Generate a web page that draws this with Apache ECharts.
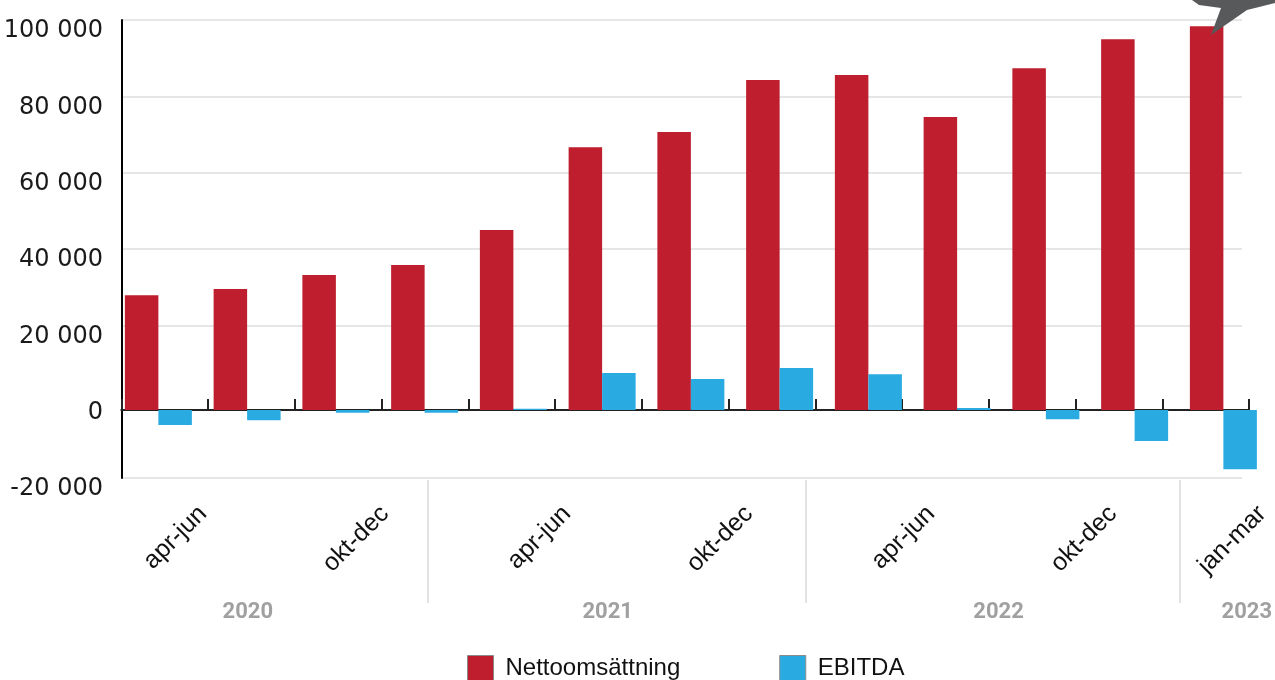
<!DOCTYPE html>
<html>
<head>
<meta charset="utf-8">
<script src="https://cdn.jsdelivr.net/npm/echarts@6/dist/echarts.min.js"></script>
<style>
  html, body { margin: 0; padding: 0; background: #ffffff; }
  #chart { width: 1275px; height: 680px; }
</style>
</head>
<body>
<div id="chart"></div>
<script>
// ---- data ----
const quarters = ['jan-mar', 'apr-jun', 'jul-sep', 'okt-dec',
                  'jan-mar', 'apr-jun', 'jul-sep', 'okt-dec',
                  'jan-mar', 'apr-jun', 'jul-sep', 'okt-dec',
                  'jan-mar'];
const quarterYears = ['2020', '2020', '2020', '2020',
                      '2021', '2021', '2021', '2021',
                      '2022', '2022', '2022', '2022',
                      '2023'];
const years = ['2020', '2021', '2022', '2023'];
const nettoomsattning = [30100, 31700, 35400, 38000, 47200, 68900, 72900,
                         86500, 87800, 76800, 89600, 97200, 100600];
const ebitda = [-3900, -2700, -700, -700, 300, 9700, 8100,
                11000, 9400, 500, -2400, -8100, -15500];
const yTicks = [-20000, 0, 20000, 40000, 60000, 80000, 100000];
const shownQuarterIdx = [1, 3, 5, 7, 9, 11, 12];
const seriesNames = ['Nettoomsättning', 'EBITDA'];

// ---- layout (axis-unit positions of the decorative label rows) ----
const quarterLabelPos = [1, 3, 5, 7, 9, 11, 12.64];
const yearLabelPos = [1.51, 5.57, 9.98, 12.78];
const yearSepPos = [3.54, 7.80, 12.02];
const LABEL_LEFT = 112, LABEL_STEP = 91;

function fmtNum(v) {
  const s = Math.abs(v).toString().replace(/\B(?=(\d{3})+(?!\d))/g, ' ');
  return (v < 0 ? '-' : '') + s;
}
function nearestIdx(arr, v) {
  let best = 0, d = Infinity;
  arr.forEach((p, i) => { const dd = Math.abs(p - v); if (dd < d) { d = dd; best = i; } });
  return best;
}

const RED = '#be1e2d';
const BLUE = '#29abe2';
const PX_PER_20K = 76.3;
const ZERO_Y = 410;
const barMin = -20000, barMax = 105000;
const barTop = ZERO_Y - barMax / 20000 * PX_PER_20K;
const barHeight = (barMax - barMin) / 20000 * PX_PER_20K;

const chart = echarts.init(document.getElementById('chart'), null, { renderer: 'canvas' });

const option = {
  animation: false,
  backgroundColor: '#ffffff',
  grid: [
    { left: 122, top: 20, width: 1120, height: 458 },                 // 0: gridlines + y labels
    { left: 114, top: barTop, width: 1153.75, height: barHeight },   // 1: bars
    { left: 121.3, top: barTop, width: 1127.7, height: barHeight },  // 2: zero line ticks
    { left: LABEL_LEFT, top: 0, right: 0, height: 478 },             // 3: quarter labels
    { left: 114, top: 0, width: 1153.75, height: 480 }               // 4: years
  ],
  xAxis: [
    { gridIndex: 0, type: 'category', data: quarters, show: false },
    { gridIndex: 1, type: 'category', data: quarters, show: false },
    { gridIndex: 2, type: 'category', data: quarters,
      axisLine: { show: true, onZero: true, lineStyle: { color: '#222', width: 2 } },
      axisTick: { show: true, inside: true, length: 11, lineStyle: { color: '#222', width: 2 } },
      axisLabel: { show: false }, splitLine: { show: false } },
    { gridIndex: 3, type: 'value', min: 0, max: (1275 - LABEL_LEFT) / LABEL_STEP, position: 'bottom',
      axisLine: { show: false }, axisTick: { show: false }, splitLine: { show: false },
      axisLabel: {
        customValues: quarterLabelPos, rotate: 45, margin: 32,
        fontFamily: 'Liberation Sans', fontSize: 25, color: '#111',
        formatter: v => quarters[shownQuarterIdx[nearestIdx(quarterLabelPos, v)]]
      } },
    { gridIndex: 4, type: 'value', min: 0, max: 13, position: 'bottom',
      axisLine: { show: false }, splitLine: { show: false },
      axisTick: { show: true, customValues: yearSepPos, length: 123, inside: false,
                  lineStyle: { color: '#e3e3e3', width: 2 } },
      axisLabel: {
        customValues: yearLabelPos, margin: 121,
        fontFamily: 'Roboto', fontWeight: 'bold', fontSize: 22, color: '#a0a0a0',
        formatter: v => years[nearestIdx(yearLabelPos, v)]
      } }
  ],
  yAxis: [
    { gridIndex: 0, type: 'value', min: yTicks[0], max: yTicks[yTicks.length - 1],
      interval: yTicks[1] - yTicks[0],
      axisLine: { show: true, lineStyle: { color: '#000', width: 2 } },
      axisTick: { show: false },
      axisLabel: { margin: 19, fontFamily: 'DejaVu Sans', fontSize: 24, color: '#1a1a1a',
                   verticalAlign: 'top', lineHeight: 22, formatter: v => fmtNum(v) },
      splitLine: { show: true, lineStyle: { width: 2,
        color: ['#e6e6e6', 'rgba(0,0,0,0)', '#e6e6e6', '#e6e6e6', '#e6e6e6', '#e6e6e6'] } } },
    { gridIndex: 1, type: 'value', min: barMin, max: barMax, show: false, splitLine: { show: false } },
    { gridIndex: 2, type: 'value', min: barMin, max: barMax, show: false, splitLine: { show: false } },
    { gridIndex: 3, type: 'value', min: 0, max: 1, show: false, splitLine: { show: false } },
    { gridIndex: 4, type: 'value', min: 0, max: 1, show: false, splitLine: { show: false } }
  ],
  legend: {
    left: 467, top: 655, padding: 0,
    itemWidth: 26, itemHeight: 26, itemGap: 99,
    icon: 'rect',
    itemStyle: { borderColor: '#8a8a8a', borderWidth: 1 },
    textStyle: { fontFamily: 'Liberation Sans', fontSize: 24, color: '#111', padding: [0, 0, 0, 7] },
    data: seriesNames
  },
  series: [
    { name: seriesNames[0], type: 'bar', xAxisIndex: 1, yAxisIndex: 1,
      data: nettoomsattning, barWidth: 33.5, barGap: '0%',
      itemStyle: { color: RED } },
    { name: seriesNames[1], type: 'bar', xAxisIndex: 1, yAxisIndex: 1,
      data: ebitda, barWidth: 33.5, barGap: '0%',
      itemStyle: { color: BLUE } }
  ],
  graphic: [
    { type: 'polygon', z: 100,
      shape: { points: [[1183, -6], [1192, 0], [1199, 5], [1221, 8], [1211, 35],
                        [1247, 10], [1275, 3], [1285, -6]] },
      style: { fill: '#58595b' } }
  ]
};
chart.setOption(option);
</script>
</body>
</html>
